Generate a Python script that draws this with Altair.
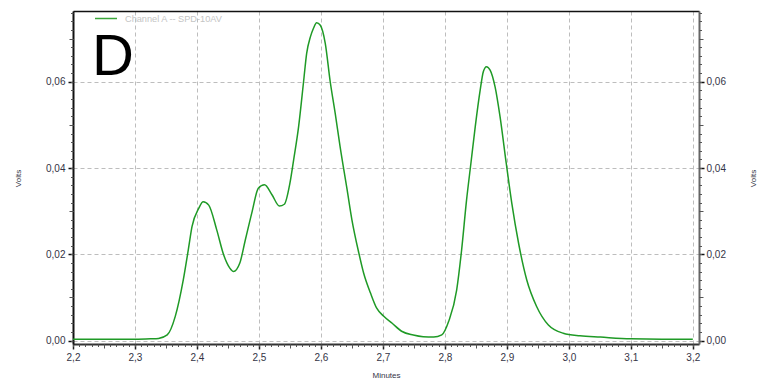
import altair as alt
import pandas as pd

# Chromatogram trace (Minutes, Volts)
minutes = [2.200, 2.250, 2.300, 2.325, 2.338, 2.352, 2.365, 2.378, 2.386, 2.392,
           2.403, 2.410, 2.419, 2.432, 2.443, 2.453, 2.459, 2.469, 2.478, 2.489,
           2.499, 2.509, 2.521, 2.533, 2.541, 2.550, 2.556, 2.564, 2.572, 2.577,
           2.583, 2.588, 2.593, 2.599, 2.607, 2.615, 2.623, 2.631, 2.642, 2.650,
           2.661, 2.669, 2.680, 2.690, 2.701, 2.715, 2.731, 2.749, 2.765, 2.782,
           2.795, 2.806, 2.819, 2.827, 2.835, 2.842, 2.849, 2.857, 2.862, 2.867,
           2.873, 2.881, 2.889, 2.899, 2.908, 2.919, 2.932, 2.948, 2.967, 2.991,
           3.018, 3.051, 3.100, 3.150, 3.200]
volts = [0.0003, 0.0003, 0.0003, 0.0004, 0.0005, 0.0013, 0.0056, 0.0141, 0.0210, 0.0264,
         0.0307, 0.0322, 0.0314, 0.0256, 0.0199, 0.0168, 0.0160, 0.0179, 0.0233, 0.0299,
         0.0353, 0.0361, 0.0338, 0.0312, 0.0316, 0.0365, 0.0419, 0.0496, 0.0600, 0.0666,
         0.0704, 0.0724, 0.0737, 0.0731, 0.0689, 0.0600, 0.0527, 0.0449, 0.0352, 0.0280,
         0.0204, 0.0156, 0.0110, 0.0075, 0.0057, 0.0040, 0.0021, 0.0013, 0.0009, 0.0008,
         0.0013, 0.0044, 0.0117, 0.0210, 0.0326, 0.0411, 0.0496, 0.0581, 0.0623, 0.0635,
         0.0627, 0.0588, 0.0519, 0.0411, 0.0318, 0.0225, 0.0141, 0.0079, 0.0036, 0.0017,
         0.0011, 0.0008, 0.0004, 0.0003, 0.0003]
series_name = ["Channel A -- SPD-10AV"]
panel_letter = ["D"]
x_tick_labels = [2.2, 2.3, 2.4, 2.5, 2.6, 2.7, 2.8, 2.9, 3.0, 3.1, 3.2]
y_tick_labels = [0.0, 0.02, 0.04, 0.06]

df = pd.DataFrame({"t": minutes, "v": volts})

FONT = "Liberation Sans"
LABEL_COLOR = "#343446"
GREEN = "#1f9a26"

xs = alt.Scale(domain=[2.2, 3.21], nice=False, zero=False)
ys = alt.Scale(domain=[-0.0008, 0.0764], nice=False, zero=False)

x_minor_vals = [round(2.2 + 0.01 * i, 3) for i in range(101)]
x_mid_vals = [round(2.25 + 0.1 * i, 3) for i in range(10)]
y_minor_vals = [round(0.002 * i, 4) for i in range(39)]
y_mid_vals = [0.01, 0.03, 0.05, 0.07]

x_fmt = "replace(format(datum.value, '.1f'), '.', ',')"
y_fmt = "replace(format(datum.value, '.2f'), '.', ',')"

base = alt.Chart(df)

main = base.mark_line(strokeWidth=1.5, interpolate="monotone", color=GREEN).encode(
    x=alt.X("t:Q", scale=xs, title="Minutes", axis=alt.Axis(
        orient="bottom", values=x_tick_labels, labelExpr=x_fmt,
        grid=True, gridDash=[4, 3], gridColor="#bdbdbd", gridWidth=1,
        tickSize=5, tickColor="#222222", tickWidth=1.5,
        domainColor="#333333", domainWidth=2,
        labelFont=FONT, labelFontSize=10, labelColor=LABEL_COLOR, labelPadding=3,
        labelFlush=False, labelOverlap=False,
        titleFont=FONT, titleFontSize=8, titleFontWeight="normal", titleColor=LABEL_COLOR,
        titleX=313, titleY=33, titleBaseline="alphabetic", titleAlign="center")),
    y=alt.Y("v:Q", scale=ys, title="Volts", axis=alt.Axis(
        orient="left", values=y_tick_labels, labelExpr=y_fmt,
        grid=True, gridDash=[4, 3], gridColor="#bdbdbd", gridWidth=1,
        tickSize=5, tickColor="#111111", tickWidth=1.5,
        domainColor="#111111", domainWidth=2,
        labelFont=FONT, labelFontSize=10, labelColor=LABEL_COLOR, labelPadding=3,
        labelFlush=False, labelOverlap=False,
        titleFont=FONT, titleFontSize=8, titleFontWeight="normal", titleColor=LABEL_COLOR,
        titleAngle=270, titleX=-55, titleY=167, titleAlign="center", titleBaseline="middle")),
)

def ghost(xaxis, yaxis):
    return base.mark_line(strokeOpacity=0).encode(
        x=alt.X("t:Q", scale=xs, title=None, axis=xaxis),
        y=alt.Y("v:Q", scale=ys, title=None, axis=yaxis),
    )

def tick_axis(orient, values, size, color):
    return alt.Axis(orient=orient, values=values, labels=False, grid=False, domain=False,
                    tickSize=size, tickColor=color, tickWidth=1)

x_minor = ghost(tick_axis("bottom", x_minor_vals, 2.5, "#555555"),
                tick_axis("left", y_minor_vals, 2.5, "#555555"))
x_mid = ghost(tick_axis("bottom", x_mid_vals, 4, "#555555"),
              tick_axis("left", y_mid_vals, 4, "#555555"))
right_major = ghost(alt.Axis(orient="top", labels=False, ticks=False, grid=False,
                             domainColor="#111111", domainWidth=1.5),
                    alt.Axis(
    orient="right", values=y_tick_labels, labelExpr=y_fmt, grid=False,
    tickSize=5, tickColor="#111111", tickWidth=1.5,
    domainColor="#666666", domainWidth=2,
    labelFont=FONT, labelFontSize=10, labelColor=LABEL_COLOR, labelPadding=2,
    labelFlush=False, labelOverlap=False, title="Volts",
    titleFont=FONT, titleFontSize=8, titleFontWeight="normal", titleColor=LABEL_COLOR,
    titleAngle=270, titleX=54, titleY=167, titleAlign="center", titleBaseline="middle"))
right_minor = ghost(None, tick_axis("right", y_minor_vals, 2.5, "#555555"))
right_mid = ghost(None, tick_axis("right", y_mid_vals, 4, "#555555"))

legend_df = pd.DataFrame({"label": series_name})
legend_line = alt.Chart(legend_df).mark_rule(color="#3aa63a", strokeWidth=1.5).encode(
    x=alt.value(22), x2=alt.value(44), y=alt.value(7.5))
legend_text = alt.Chart(legend_df).mark_text(
    font=FONT, fontSize=9.2, color="#c4c4c4", align="left", baseline="middle"
).encode(text="label:N", x=alt.value(52), y=alt.value(7.5))

letter = alt.Chart(pd.DataFrame({"label": panel_letter})).mark_text(
    font=FONT, fontSize=58, color="#000000", align="left", baseline="alphabetic"
).encode(text="label:N", x=alt.value(19), y=alt.value(64))

chart = alt.layer(main, x_minor, x_mid, right_major, right_minor, right_mid,
                  legend_line, legend_text, letter).resolve_axis(
    x="independent", y="independent"
).properties(
    width=626, height=333,
    autosize=alt.AutoSizeParams(type="none"),
    padding={"left": 73, "top": 11, "right": 64, "bottom": 36},
).configure_view(stroke="#111111", strokeWidth=1.5).configure(background="white")

chart.save("out.html", embed_options={"renderer": "svg", "actions": False})
